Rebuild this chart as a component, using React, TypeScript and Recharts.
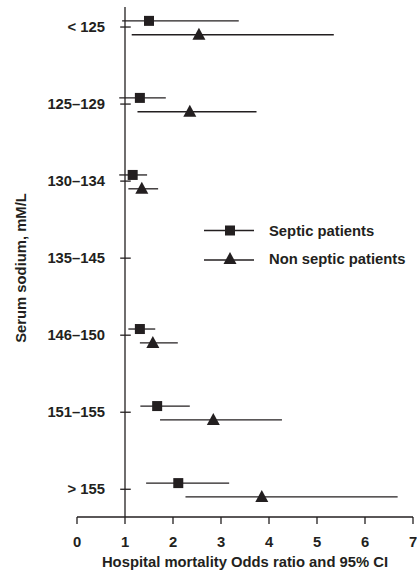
import React from 'react';
import { ScatterChart, Scatter, XAxis, YAxis, ErrorBar, ReferenceLine, Legend } from 'recharts';

const categories = ['< 125', '125–129', '130–134', '135–145', '146–150', '151–155', '> 155'];
// odds ratio + 95% CI, 135–145 is the reference group (no marker)
const septicOR = [1.5, 1.31, 1.16, null, 1.31, 1.67, 2.11];
const septicLow = [0.94, 0.88, 0.88, null, 1.07, 1.32, 1.44];
const septicHigh = [3.37, 1.85, 1.46, null, 1.63, 2.35, 3.17];
const nonSepticOR = [2.54, 2.35, 1.35, null, 1.58, 2.84, 3.85];
const nonSepticLow = [1.14, 1.26, 1.07, null, 1.31, 1.73, 2.26];
const nonSepticHigh = [5.35, 3.74, 1.69, null, 2.1, 4.27, 6.68];
const xTicks = [0, 1, 2, 3, 4, 5, 6, 7];
const seriesNames = ['Septic patients', 'Non septic patients'];

const INK = '#231f20';
const FONT = '"Liberation Sans", Arial, sans-serif';
const FS = 14.8;

const build = (or: (number | null)[], lo: (number | null)[], hi: (number | null)[], shift: number) =>
  or
    .map((v, i) => (v == null ? null : { x: v, y: i + shift, err: [v - (lo[i] as number), (hi[i] as number) - v] }))
    .filter(Boolean) as { x: number; y: number; err: number[] }[];

const septic = build(septicOR, septicLow, septicHigh, -0.08);
const nonSeptic = build(nonSepticOR, nonSepticLow, nonSepticHigh, 0.1);

const Square = ({ cx, cy }: any) => <rect x={cx - 5} y={cy - 5} width={10} height={10} fill={INK} />;
const Triangle = ({ cx, cy }: any) => (
  <polygon points={`${cx},${cy - 7} ${cx - 6.5},${cy + 5} ${cx + 6.5},${cy + 5}`} fill={INK} />
);

const YTick = ({ x, y, payload }: any) => (
  <text x={x + 28} y={y} dy={5} textAnchor="end" fill={INK} fontSize={FS} fontWeight="bold" fontFamily={FONT}>
    {categories[payload.value]}
  </text>
);

const YLabel = ({ viewBox }: any) => {
  const x = viewBox.x + 21;
  const y = viewBox.y + viewBox.height / 2 + 6;
  return (
    <text x={x} y={y} transform={`rotate(-90, ${x}, ${y})`} textAnchor="middle" dominantBaseline="central" fill={INK} fontSize={FS} fontWeight="bold" fontFamily={FONT}>
      Serum sodium, mM/L
    </text>
  );
};

const XLabel = ({ viewBox }: any) => (
  <text x={viewBox.x + viewBox.width / 2} y={567} textAnchor="middle" fill={INK} fontSize={FS} fontWeight="bold" fontFamily={FONT}>
    Hospital mortality Odds ratio and 95% CI
  </text>
);

const LegendBox = () => (
  <svg width={215} height={60} style={{ display: 'block' }}>
    {seriesNames.map((name, i) => {
      const cy = i === 0 ? 15.5 : 45;
      return (
        <g key={name}>
          <line x1={7} x2={57} y1={cy} y2={cy} stroke={INK} strokeWidth={1.3} />
          {i === 0 ? <Square cx={33} cy={cy} /> : <Triangle cx={33} cy={cy - 1} />}
          <text x={72} y={i === 0 ? 20.5 : 48.5} fill={INK} fontSize={FS} fontWeight="bold" fontFamily={FONT}>
            {name}
          </text>
        </g>
      );
    })}
  </svg>
);

export default function App() {
  return (
    <div style={{ position: 'absolute', left: 0, top: 0, background: '#fff', fontFamily: FONT }}>
      <ScatterChart width={417} height={570} margin={{ top: 7, right: 4, left: 0, bottom: 0 }}>
        <XAxis
          type="number"
          dataKey="x"
          domain={[0, 7]}
          ticks={xTicks}
          allowDataOverflow
          height={53}
          tickSize={7}
          tickMargin={12}
          axisLine={{ stroke: INK, strokeWidth: 1.3 }}
          tickLine={{ stroke: INK, strokeWidth: 1.3 }}
          tick={{ fill: INK, fontSize: FS, fontWeight: 'bold', fontFamily: FONT }}
          label={<XLabel />}
        />
        <YAxis
          type="number"
          dataKey="y"
          domain={[-0.26, 6.36]}
          ticks={[0, 1, 2, 3, 4, 5, 6]}
          reversed
          allowDataOverflow
          width={77}
          axisLine={false}
          tickLine={false}
          tickSize={0}
          tickMargin={0}
          tick={<YTick />}
          label={<YLabel />}
        />
        <ReferenceLine x={1} stroke={INK} strokeWidth={1.3} />
        {categories.map((c, i) => (
          <ReferenceLine key={c} segment={[{ x: 0.9, y: i }, { x: 1.12, y: i }]} stroke={INK} strokeWidth={1.3} />
        ))}
        <Legend
          layout="horizontal"
          verticalAlign="middle"
          align="center"
          content={<LegendBox />}
          wrapperStyle={{ left: 197, top: 215, width: 215, height: 60 }}
        />
        <Scatter name={seriesNames[0]} data={septic} shape={<Square />} isAnimationActive={false}>
          <ErrorBar dataKey="err" direction="x" width={0} stroke={INK} strokeWidth={1.3} />
        </Scatter>
        <Scatter name={seriesNames[1]} data={nonSeptic} shape={<Triangle />} isAnimationActive={false}>
          <ErrorBar dataKey="err" direction="x" width={0} stroke={INK} strokeWidth={1.3} />
        </Scatter>
      </ScatterChart>
    </div>
  );
}
